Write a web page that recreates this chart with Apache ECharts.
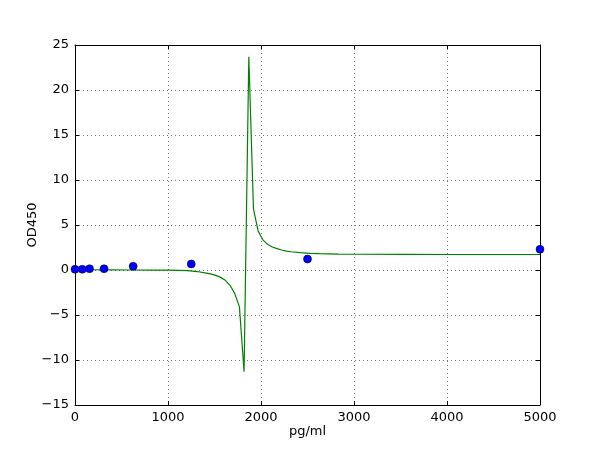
<!DOCTYPE html>
<html>
<head>
<meta charset="utf-8">
<script src="https://cdn.jsdelivr.net/npm/echarts@6/dist/echarts.min.js"></script>
<style>html,body{margin:0;padding:0;background:#fff}#c{width:600px;height:450px}</style>
</head>
<body>
<div id="c"></div>
<script>
// Measured standards (blue dots)
var pointX = [0, 78.125, 156.25, 312.5, 625, 1250, 2500, 5000];
var pointY = [0.08, 0.08, 0.14, 0.14, 0.41, 0.67, 1.22, 2.3];

// Fitted curve (green line)
var curveX = [0, 202, 404, 606, 808, 1010, 1111, 1212, 1313, 1414, 1465, 1515, 1566, 1616, 1667, 1717, 1768, 1818, 1869, 1919, 1970, 2020, 2071, 2121, 2172, 2222, 2273, 2323, 2424, 2525, 2626, 2828, 3030, 3535, 4040, 4545, 5000];
var curveY = [0.04, 0.03, 0.02, 0.0, -0.01, -0.02, -0.04, -0.08, -0.17, -0.35, -0.45, -0.6, -0.82, -1.15, -1.7, -2.6, -4.1, -11.3, 23.7, 6.8, 4.3, 3.35, 2.85, 2.55, 2.38, 2.22, 2.1, 2.03, 1.92, 1.85, 1.81, 1.77, 1.75, 1.73, 1.72, 1.72, 1.72];

var xTicks = [0, 1000, 2000, 3000, 4000, 5000];
var yTicks = [-15, -10, -5, 0, 5, 10, 15, 20, 25];

var font = 'DejaVu Sans';
function fmt(v){ return String(v).replace('-', '\u2212'); }

var chart = echarts.init(document.getElementById('c'), null, {renderer: 'canvas'});
var axisLine = {show: true, onZero: false, lineStyle: {color: '#000', width: 1}};
var tick = {show: true, inside: true, length: 4, lineStyle: {color: '#000', width: 1}};
var grid = {show: true, lineStyle: {color: '#777', width: 1, type: [1, 3]}};

chart.setOption({
  animation: false,
  backgroundColor: '#fff',
  grid: {left: 75, right: 60, top: 45, bottom: 45, containLabel: false},
  xAxis: [{
    type: 'value', min: xTicks[0], max: xTicks[xTicks.length-1], interval: 1000,
    name: 'pg/ml', nameLocation: 'middle', nameGap: 20, nameMoveOverlap: false,
    nameTextStyle: {fontFamily: font, fontSize: 13, color: '#000'},
    axisLine: axisLine, axisTick: tick, splitLine: grid,
    axisLabel: {fontFamily: font, fontSize: 13, color: '#000', margin: 6, formatter: fmt}
  }, {
    type: 'value', position: 'top', min: xTicks[0], max: xTicks[xTicks.length-1], interval: 1000,
    axisLine: axisLine, axisTick: tick, splitLine: {show: false}, axisLabel: {show: false}
  }],
  yAxis: [{
    type: 'value', min: yTicks[0], max: yTicks[yTicks.length-1], interval: 5,
    name: 'OD450', nameLocation: 'middle', nameGap: 36, nameMoveOverlap: false,
    nameTextStyle: {fontFamily: font, fontSize: 13, color: '#000'},
    axisLine: axisLine, axisTick: tick, splitLine: grid,
    axisLabel: {fontFamily: font, fontSize: 13, color: '#000', margin: 6, formatter: fmt}
  }, {
    type: 'value', position: 'right', min: yTicks[0], max: yTicks[yTicks.length-1], interval: 5,
    axisLine: axisLine, axisTick: tick, splitLine: {show: false}, axisLabel: {show: false}
  }],
  series: [{
    type: 'line', xAxisIndex: 0, yAxisIndex: 0,
    data: curveX.map(function(x, i){ return [x, curveY[i]]; }),
    showSymbol: false, symbol: 'none', smooth: false,
    lineStyle: {color: '#008000', width: 1.2}, z: 3
  }, {
    type: 'scatter', xAxisIndex: 0, yAxisIndex: 0,
    data: pointX.map(function(x, i){ return [x, pointY[i]]; }),
    symbol: 'circle', symbolSize: 8,
    itemStyle: {color: '#0000ff', borderColor: '#000', borderWidth: 0.5, opacity: 1}, z: 4
  }]
});
</script>
</body>
</html>
